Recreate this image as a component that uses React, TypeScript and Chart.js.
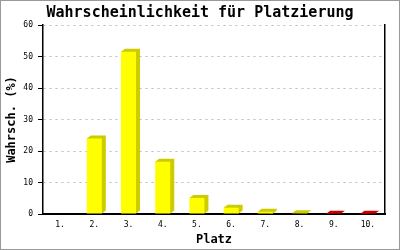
import React, { useEffect, useRef } from 'react';
import { Chart, registerables } from 'chart.js';

Chart.register(...registerables);

const chartTitle = 'Wahrscheinlichkeit für Platzierung';
const xTitle = 'Platz';
const yTitle = 'Wahrsch. (%)';
const categories = ['1.', '2.', '3.', '4.', '5.', '6.', '7.', '8.', '9.', '10.'];
const probabilities = [0, 24.0, 51.5, 16.6, 5.1, 2.0, 0.7, 0.2, 0.1, 0.1];
const isRed = [false, false, false, false, false, false, false, false, true, true];
const yMin = 0;
const yMax = 60;
const yStep = 10;

const FRONT_YELLOW = '#ffff00';
const SIDE_YELLOW = '#cccc00';
const FRONT_RED = '#dd0000';
const SIDE_RED = '#cc0000';
const DX = 4;
const DY = 3;

const frontColors = isRed.map((r) => (r ? FRONT_RED : FRONT_YELLOW));
const sideColors = isRed.map((r) => (r ? SIDE_RED : SIDE_YELLOW));

const bar3d = {
  id: 'bar3d',
  beforeDatasetsDraw(chart: any) {
    const meta = chart.getDatasetMeta(0);
    const ctx = chart.ctx;
    meta.data.forEach((el: any, i: number) => {
      if (!probabilities[i]) return;
      const { x, y, base, width } = el.getProps(['x', 'y', 'base', 'width'], true);
      const l = x - width / 2;
      const r = x + width / 2;
      ctx.save();
      ctx.fillStyle = sideColors[i];
      ctx.beginPath();
      ctx.moveTo(l, y);
      ctx.lineTo(l + DX, y - DY);
      ctx.lineTo(r + DX, y - DY);
      ctx.lineTo(r + DX, base - DY);
      ctx.lineTo(r, base);
      ctx.closePath();
      ctx.fill();
      ctx.restore();
    });
  },
};

const MONO = "'DejaVu Sans Mono', 'Liberation Mono', monospace";

export default function App() {
  const ref = useRef<HTMLCanvasElement>(null);
  useEffect(() => {
    if (!ref.current) return;
    const chart = new Chart(ref.current, {
      type: 'bar',
      data: {
        labels: categories,
        datasets: [
          {
            data: probabilities,
            backgroundColor: frontColors,
            borderWidth: 0,
            categoryPercentage: 1,
            barPercentage: 0.44,
          },
        ],
      },
      options: {
        responsive: false,
        animation: false,
        layout: { padding: 0 },
        plugins: {
          legend: { display: false },
          tooltip: { enabled: false },
          title: {
            display: true,
            text: chartTitle,
            color: '#000',
            font: { family: MONO, size: 15, weight: 'bold', lineHeight: 1.2 },
            padding: { top: 3, bottom: 3 },
          },
        },
        scales: {
          x: {
            afterFit: (s: any) => {
              s.height = 35;
            },
            grid: { display: false, drawTicks: false },
            border: { display: true, color: '#000', width: 2 },
            ticks: {
              color: '#000',
              padding: 6,
              font: { family: MONO, size: 8 },
              maxRotation: 0,
            },
            title: {
              display: true,
              text: xTitle,
              color: '#000',
              font: { family: MONO, size: 12, weight: 'bold', lineHeight: 1.2 },
              padding: { top: 3, bottom: 2 },
            },
          },
          y: {
            min: yMin,
            max: yMax,
            afterFit: (s: any) => {
              s.width = 42;
            },
            grid: {
              color: '#bbbbbb',
              tickColor: '#000',
              tickLength: 5,
              lineWidth: 1,
            },
            border: { display: true, color: '#000', width: 1.5, dash: [2, 4] },
            ticks: {
              stepSize: yStep,
              color: '#000',
              padding: 5,
              font: { family: MONO, size: 8 },
            },
            title: {
              display: true,
              text: yTitle,
              color: '#000',
              font: { family: MONO, size: 12, weight: 'bold', lineHeight: 1.2 },
              padding: { top: 4, bottom: 4 },
            },
          },
          yRight: {
            position: 'right',
            display: true,
            min: yMin,
            max: yMax,
            afterFit: (s: any) => {
              s.width = 14;
            },
            grid: { drawOnChartArea: false, drawTicks: false },
            border: { display: true, color: '#000', width: 1.5 },
            ticks: { display: false },
          },
        },
      },
      plugins: [bar3d],
    } as any);
    return () => chart.destroy();
  }, []);
  return (
    <div
      style={{
        position: 'absolute',
        left: 0,
        top: 0,
        width: 400,
        height: 250,
        boxSizing: 'border-box',
        border: '1px solid #999999',
        background: '#fff',
      }}
    >
      <canvas ref={ref} width={398} height={248} style={{ display: 'block' }} />
    </div>
  );
}
